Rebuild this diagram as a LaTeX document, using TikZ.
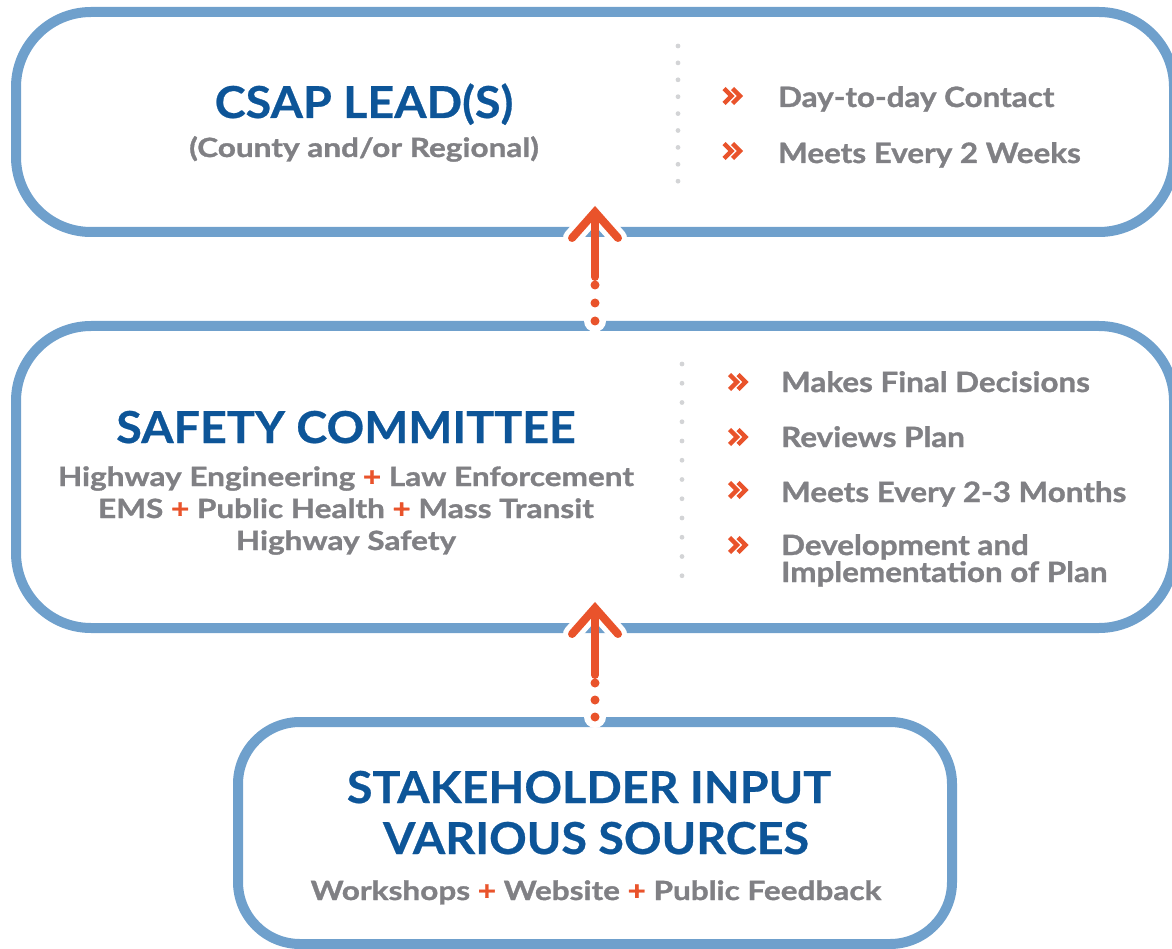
\documentclass[tikz,border=0pt]{standalone}
\usepackage{fontspec}
\setmainfont{Lato}
\newfontfamily\titlefont{Lato}[UprightFont=* Bold, FakeStretch=1.06, FakeBold=0.6]
\newfontfamily\bodyfont{Lato}[UprightFont=* Bold, FakeStretch=1.19, FakeBold=1.2]
\newfontfamily\itemfont{Lato}[UprightFont=* Bold, FakeStretch=1.12, FakeBold=1.2]
\usetikzlibrary{calc}
\definecolor{titleblue}{HTML}{0D5598}
\definecolor{textgray}{HTML}{808084}
\definecolor{frameblue}{HTML}{6FA0CC}
\definecolor{accent}{HTML}{E9532B}
\definecolor{sepgray}{HTML}{D3D4D6}
\newcommand{\plus}{\textcolor{accent}{+}}
\begin{document}
\begin{tikzpicture}[x=1pt,y=-1pt,
  frame/.style={draw=frameblue, line width=10pt, rounded corners=#1, inner sep=0pt},
  title/.style={anchor=base, text=titleblue, font=\titlefont\fontsize{44}{44}\selectfont, inner sep=0pt},
  sub/.style={anchor=base, text=textgray, font=\bodyfont\fontsize{26.5}{26.5}\selectfont, inner sep=0pt},
  item/.style={anchor=base west, text=textgray, font=\itemfont\fontsize{28}{28}\selectfont, inner sep=0pt},
  sepline/.style={sepgray, line width=4.8pt, line cap=round},
  halo/.style={white, line width=18pt, line cap=round, line join=round},
  arrowline/.style={accent, line width=8pt, line cap=round, line join=miter},
  chev/.pic={\draw[accent, line width=4.4pt, line join=miter] (-11,-7.5) -- (-3.5,0) -- (-11,7.5) (-2.5,-7.5) -- (5,0) -- (-2.5,7.5);}
]
\useasboundingbox (0,0) rectangle (1172,949);

% the three frames
\node[frame=75pt, minimum width=1158pt, minimum height=220pt] (lead) at (595,122) {};
\node[frame=75pt, minimum width=1158pt, minimum height=302pt] (committee) at (595,477) {};
\node[frame=62pt, minimum width=714pt, minimum height=222pt] (stake) at (595,833) {};

% dotted separators
\draw[sepline, dash pattern=on 0pt off 16.9pt] (678,46) -- (678,198);
\draw[sepline, dash pattern=on 0pt off 19.25pt] (682,364) -- (682,595);

% CSAP lead
\node[title] (leadtitle) at (364,118) {CSAP LEAD(S)};
\node[sub] (leadsub) at (364,157) {(County and/or Regional)};
\pic at (735,96) {chev};
\node[item] (lead1) at (778,107) {Day-to-day Contact};
\pic at (735,151) {chev};
\node[item] (lead2) at (778,163) {Meets Every 2 Weeks};

% safety committee
\node[title] (comtitle) at (346,443) {SAFETY COMMITTEE};
\node[sub] (com1) at (346,486) {Highway Engineering \plus{} Law Enforcement};
\node[sub] (com2) at (346,518) {EMS \plus{} Public Health \plus{} Mass Transit};
\node[sub] (com3) at (346,550) {Highway Safety};
\pic at (740.5,382) {chev};
\node[item] (item1) at (781,392) {Makes Final Decisions};
\pic at (740.5,437) {chev};
\node[item] (item2) at (781,447) {Reviews Plan};
\pic at (740.5,490) {chev};
\node[item] (item3) at (781,502) {Meets Every 2-3 Months};
\pic at (740.5,545) {chev};
\node[item] (item4) at (781,555) {Development and};
\node[item] (item5) at (781,582) {Implementation of Plan};

% stakeholder input
\node[title] (staketitle1) at (589,803) {STAKEHOLDER INPUT};
\node[title] (staketitle2) at (596,854) {VARIOUS SOURCES};
\node[sub] (stakesub) at (596,900) {Workshops \plus{} Website \plus{} Public Feedback};

% connector: committee up to lead
\coordinate (tipA) at ($(lead.south)+(0,-25)$);
\draw[halo] ($(tipA)+(-23,26)$) -- (tipA) -- ($(tipA)+(23,26)$);
\draw[arrowline] ($(tipA)+(-23,26)$) -- (tipA) -- ($(tipA)+(23,26)$);
\draw[arrowline] (tipA) -- ++(0,65);
\fill[white] (committee.north) circle (11);
\foreach \d in {0,18,36}
  \fill[accent] ($(committee.north)+(0,-\d)$) circle (4.5);

% connector: stakeholder up to committee
\coordinate (tipB) at ($(committee.south)+(0,-25)$);
\draw[halo] ($(tipB)+(-23,26)$) -- (tipB) -- ($(tipB)+(23,26)$);
\draw[arrowline] ($(tipB)+(-23,26)$) -- (tipB) -- ($(tipB)+(23,26)$);
\draw[arrowline] (tipB) -- ++(0,67);
\fill[white] (stake.north) circle (11);
\foreach \d in {0,17,34}
  \fill[accent] ($(stake.north)+(0,-\d)$) circle (4.5);
\end{tikzpicture}
\end{document}
